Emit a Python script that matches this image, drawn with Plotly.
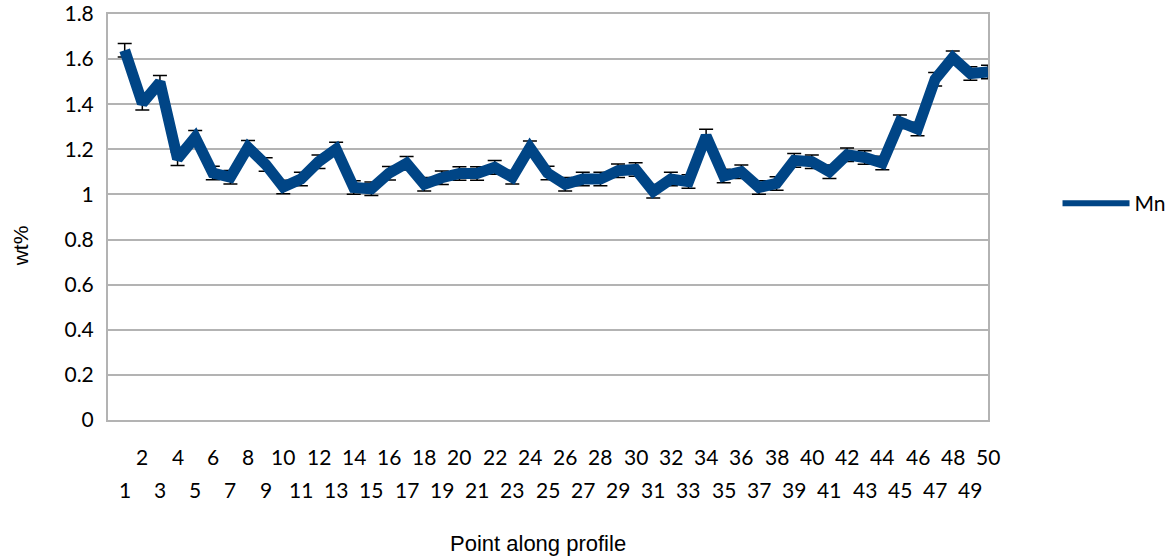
import plotly.graph_objects as go

# Mn content (wt%) measured at each point along the profile
points = list(range(1, 51))
mn = [1.639, 1.404, 1.497, 1.158, 1.253, 1.095, 1.076, 1.209, 1.133, 1.033,
      1.068, 1.145, 1.201, 1.031, 1.025, 1.094, 1.138, 1.045, 1.074, 1.093,
      1.093, 1.120, 1.076, 1.207, 1.095, 1.045, 1.068, 1.068, 1.105, 1.111,
      1.014, 1.068, 1.057, 1.259, 1.082, 1.101, 1.031, 1.049, 1.151, 1.145,
      1.101, 1.176, 1.164, 1.139, 1.322, 1.290, 1.511, 1.606, 1.536, 1.543]
mn_err = 0.03  # analytical uncertainty (wt%)

y_ticks = [0, 0.2, 0.4, 0.6, 0.8, 1.0, 1.2, 1.4, 1.6, 1.8]
x_labels = [str(p) for p in points]

BLUE = "#004586"
GRID = "#b3b3b3"
TICK_FONT = dict(family="Lato", size=21, color="#000000")
TITLE_FONT = dict(family="Liberation Sans", size=21, color="#000000")

fig = go.Figure()

fig.add_trace(go.Scatter(
    x=points, y=mn, mode="lines", name="Mn", showlegend=False,
    line=dict(color=BLUE, width=11),
    error_y=dict(type="constant", value=mn_err, color="#000000",
                 thickness=1.5, width=7),
    cliponaxis=False,
))

# legend entry with a thinner line sample
fig.add_trace(go.Scatter(
    x=[None], y=[None], mode="lines", name="Mn",
    line=dict(color=BLUE, width=6),
))

# staggered category labels: even numbers on the upper row, odd on the lower
for p, lab in zip(points, x_labels):
    fig.add_annotation(
        x=p, xref="x", y=-0.0887 if p % 2 == 0 else -0.170, yref="paper",
        text=lab, showarrow=False, font=TICK_FONT,
        xanchor="center", yanchor="middle",
    )

fig.add_annotation(
    x=0.489, xref="paper", y=-0.305, yref="paper",
    text="Point along profile", showarrow=False,
    font=dict(family="Liberation Sans", size=22, color="#000000"),
    xanchor="center", yanchor="middle",
)
fig.add_annotation(
    x=-0.099, xref="paper", y=0.43, yref="paper",
    text="wt%", showarrow=False, font=TITLE_FONT, textangle=-90,
    xanchor="center", yanchor="middle",
)

fig.update_layout(
    width=1170, height=558,
    margin=dict(l=108, r=182, t=14, b=138, autoexpand=False),
    paper_bgcolor="#ffffff", plot_bgcolor="#ffffff",
    showlegend=True,
    legend=dict(
        x=1.079, y=0.533, xanchor="left", yanchor="middle",
        font=TICK_FONT, itemwidth=67, bgcolor="rgba(0,0,0,0)",
    ),
    xaxis=dict(
        range=[0.052, 50], showgrid=False, zeroline=False,
        showticklabels=False, ticks="",
        showline=True, linecolor=GRID, linewidth=2, mirror=True,
    ),
    yaxis=dict(
        range=[0, 1.8], tickvals=y_ticks, tickformat="~g",
        showgrid=True, gridcolor=GRID, gridwidth=2, zeroline=False,
        showline=True, linecolor=GRID, linewidth=2, mirror=True,
        tickfont=TICK_FONT, ticks="", ticklabelstandoff=8,
    ),
)

fig.write_html("out.html")
